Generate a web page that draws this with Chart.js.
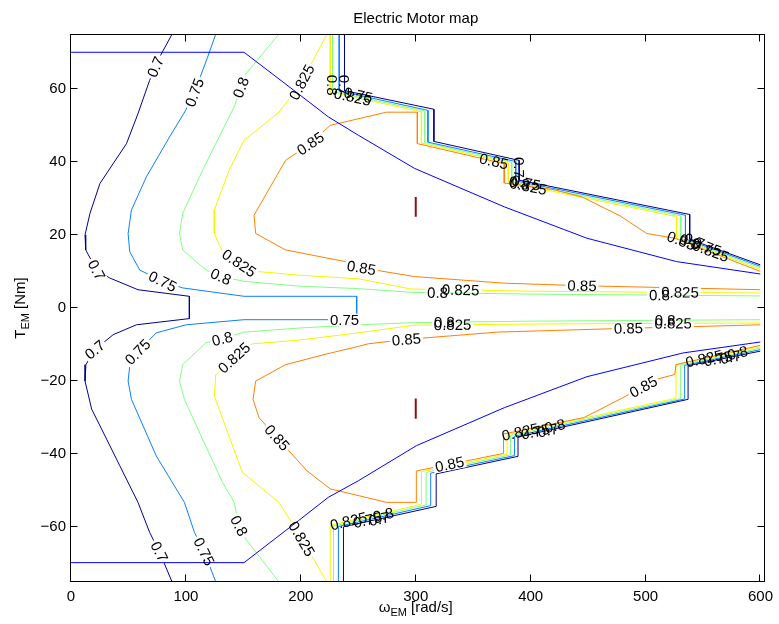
<!DOCTYPE html>
<html>
<head>
<meta charset="utf-8">
<title>Electric Motor map</title>
<script src="https://cdn.jsdelivr.net/npm/chart.js@4.4.1/dist/chart.umd.min.js"></script>
<style>
  html, body { margin: 0; padding: 0; background: #fff; }
</style>
</head>
<body>
<canvas id="motorMap" width="779" height="624"></canvas>
<script>
// axis ticks
const xTicks = [0, 100, 200, 300, 400, 500, 600];
const yTicks = [-60, -40, -20, 0, 20, 40, 60];

// efficiency contours, [speed rad/s, torque Nm]
const c70Left = [[88,75],[77,68.6],[68.4,62.3],[58.3,53.2],[48.3,45],[25.2,34.1],[16.5,25.9],[12.2,20],[12.8,15.9],[22.3,10.4],[33.8,8.2],[58.3,5],[103,3.2],[103,-2.9],[56.9,-4.6],[36.7,-7.3],[20.8,-11.4],[13,-15.5],[12.2,-20],[18,-27.7],[31,-35.9],[42.5,-43.2],[58.3,-53.2],[68.4,-61.4],[77,-66.8],[88,-75]];
const c75Left = [[126,75],[118.8,68.6],[107.4,59],[99.6,54],[85.7,46.8],[65.6,35.9],[52.6,26.8],[49.7,20.4],[51.1,15.4],[59.8,10.4],[79.7,7.3],[97.2,5.5],[150.6,3.2],[248.6,3.2],[248.6,-3.2],[150.6,-3.2],[100.2,-4.6],[74.2,-6.8],[58,-12],[51.1,-15.9],[49.7,-20],[52.6,-25],[74.2,-40.5],[98.7,-53.2],[107.4,-61.4],[116,-66.8],[126,-75]];
const c80Upper = [[181,75],[152,64],[147.8,60.4],[142,55],[137.6,52.3],[114.5,37.7],[97.2,25.9],[94.4,20.4],[97.2,15.9],[117.5,10.4],[130.4,8.6],[150.6,7.3],[198,6.0],[250,5.3],[296,4.3],[400,3.8],[600,3.3]];
const c80Lower = [[181,-75],[152,-63.2],[146.3,-59.6],[142,-53.2],[131.8,-47.7],[114.5,-35.9],[98.7,-25],[94.4,-20],[97.2,-15.5],[117.5,-9.5],[131.6,-8.4],[150.6,-6.6],[198,-5.5],[250,-4.6],[299,-4.0],[400,-3.6],[600,-3.2]];
const c825Upper = [[222.7,75],[200.8,61.8],[181,53.6],[150.6,45.9],[137.6,37.7],[124.7,26.8],[124.7,20.4],[131.8,15.4],[146.3,12.3],[162.1,10],[198,9.0],[250,8.0],[296,5.2],[400,4.6],[600,4.1]];
const c825Lower = [[222.7,-75],[200.7,-63.2],[181,-53.2],[149.1,-45],[124.7,-24.1],[126,-18.2],[142,-13.6],[157.8,-9.8],[198,-8.8],[250,-6.8],[299,-4.7],[400,-4.4],[600,-4.1]];
const c85Upper = [[600,5.0],[444.7,6.1],[377,6.8],[299,8.6],[252.8,11],[238.6,12.7],[186.7,15.9],[160.7,20.4],[159.3,25.4],[186.7,40.4],[208.3,45],[225.6,50],[274.6,53.6],[301.4,53.6],[301.4,45.0],[377,39.5],[377,34.2],[420,32.4],[444.7,30.4],[477.9,25.2],[501,20.4],[525.4,19.1],[600,10.0]];
const c85Lower = [[600,-4.6],[469,-5.7],[371,-6.6],[291.8,-8.6],[258.6,-9.8],[250,-10.5],[221,-12.7],[186.7,-15.5],[160.7,-20],[158.4,-25],[163.6,-30],[205.4,-44.6],[225.6,-49.5],[274.6,-53.2],[300.5,-53.2],[300.5,-44.6],[376.4,-39.8],[376.4,-34.5],[446.2,-30],[457.7,-28.2],[479.3,-24.7],[511,-19.4],[525.4,-18.2],[526.5,-15.5],[600,-10.2]];

// contours squeezed along the torque limit steps
const c70Top = [[238,75],[238,59.5],[315.8,54.4],[315.8,45.6],[390,40.4],[390,35.0],[538.4,25.6],[538.4,18.8],[600,11.8]];
const c75Top = [[233.4,75],[233.4,59.4],[310.6,54.1],[310.6,45.4],[387,40.1],[387,34.8],[534.7,25.4],[534.7,18.9],[600,11.4]];
const c80Top = [[227.6,75],[227.6,59.3],[307.8,53.9],[307.8,45.3],[383.5,39.9],[383.5,34.6],[530.6,25.2],[530.6,19.0],[600,11.0]];
const c825Top = [[225.6,75],[225.6,59.1],[304.9,53.7],[304.9,45.1],[380.5,39.7],[380.5,34.4],[526.9,25.0],[526.9,19.1],[600,10.5]];
const c70Bot = [[237.1,-75],[237.1,-59.9],[317.8,-54.3],[317.8,-45.4],[389,-40.6],[389,-35.3],[537,-25.0],[537,-15.8],[600,-11.8]];
const c75Bot = [[232.7,-75],[232.7,-59.8],[313,-54.1],[313,-45.2],[386,-40.4],[386,-35.1],[534,-24.9],[534,-15.7],[600,-11.4]];
const c80Bot = [[228.4,-75],[228.4,-59.7],[309,-53.9],[309,-45.0],[382.5,-40.2],[382.5,-34.9],[530.5,-24.8],[530.5,-15.6],[600,-11.0]];
const c825Bot = [[225.6,-75],[225.6,-59.5],[305,-53.7],[305,-44.8],[379.5,-40.0],[379.5,-34.7],[526.5,-24.7],[526.5,-15.5],[600,-10.6]];

// peak efficiency islands
const c875Upper = [[300,30.4],[300,25.0]];
const c875Lower = [[300,-24.8],[300,-30.3]];

// max torque envelope
const limitUpper = [[0,70],[150.6,70],[198,58.6],[224,52.3],[250,47.3],[299,38.2],[377,27.7],[449,19.1],[527,12.7],[600,9.3]];
const limitLower = [[0,-69.7],[150.6,-69.7],[198,-58.2],[224,-51.8],[250,-47.3],[300.5,-37.7],[377,-27.3],[449,-18.8],[532.7,-12.3],[600,-9.3]];

// inline contour labels: text, speed, torque, contour
const lineLabels = [
  ['0.7', 73.5, 66, c70Left], ['0.7', 22.3, 10.4, c70Left], ['0.7', 20.8, -11.4, c70Left], ['0.7', 76.2, -66.8, c70Left],
  ['0.75', 107.4, 59, c75Left], ['0.75', 79.7, 7.3, c75Left], ['0.75', 58, -12, c75Left], ['0.75', 114.8, -66.8, c75Left], ['0.75', 238, -3.2, c75Left],
  ['0.8', 147.8, 60.4, c80Upper], ['0.8', 130.4, 8.6, c80Upper], ['0.8', 319, 4.2, c80Upper], ['0.8', 512, 3.5, c80Upper],
  ['0.8', 131.6, -8.4, c80Lower], ['0.8', 146.3, -59.6, c80Lower], ['0.8', 325, -3.9, c80Lower], ['0.8', 517, -3.4, c80Lower],
  ['0.825', 200.8, 61.8, c825Upper], ['0.825', 146.3, 12.3, c825Upper], ['0.825', 339, 4.9, c825Upper], ['0.825', 530, 4.3, c825Upper],
  ['0.825', 142, -13.6, c825Lower], ['0.825', 200.7, -63.2, c825Lower], ['0.825', 332, -4.6, c825Lower], ['0.825', 524, -4.2, c825Lower],
  ['0.85', 208.3, 45, c85Upper], ['0.85', 252.8, 11, c85Upper], ['0.85', 444.7, 6.1, c85Upper],
  ['0.85', 179.4, -35.5, c85Lower], ['0.85', 291.8, -8.6, c85Lower], ['0.85', 485, -5.5, c85Lower],
  ['0.85', 329.4, -42.8, c85Lower], ['0.85', 498, -21.5, c85Lower]
];

// labels piled up where the contours bunch together
const clusterLabels = [
  ['0.7', 238, 61, c70Top], ['0.8', 228, 61, c80Top], ['0.825', 245, 57.8, c825Top], ['0.75', 250, 58.2, c75Top],
  ['0.85', 368, 40.2, c85Upper], ['0.7', 390, 38.5, c70Top], ['0.8', 390, 34.2, c80Top], ['0.75', 396, 34.2, c75Top], ['0.825', 398, 33.5, c825Top],
  ['0.85', 530, 17.5, c85Upper], ['0.8', 537, 17, c80Top], ['0.7', 542, 18, c70Top], ['0.75', 553, 16.3, c75Top], ['0.825', 556, 15, c825Top],
  ['0.825', 242, -59, c825Bot], ['0.75', 258, -58, c75Bot], ['0.7', 268, -57.5, c70Bot], ['0.8', 272, -57, c80Bot],
  ['0.825', 391, -33.9, c825Bot], ['0.75', 404, -33.8, c75Bot], ['0.7', 415, -33.5, c70Bot], ['0.8', 421, -32.3, c80Bot],
  ['0.825', 551, -13.9, c825Bot], ['0.75', 563, -13.8, c75Bot], ['0.7', 574, -13.5, c70Bot], ['0.8', 580, -12.3, c80Bot]
];

const ctx = document.getElementById('motorMap');
const FONT = '"Liberation Sans", Arial, Helvetica, sans-serif';

function line(points, color, width) {
  return {
    src: points,
    data: points.map(([x, y]) => ({ x: x, y: y })),
    borderColor: color,
    borderWidth: width || 1,
    showLine: true,
    pointRadius: 0,
    fill: false,
    tension: 0,
  };
}

// find where a label sits on its contour, and the slope there (pixels)
function onContour(chart, lab) {
  const xs = chart.scales.x, ys = chart.scales.y;
  const pts = lab[3];
  const px = xs.getPixelForValue(lab[1]), py = ys.getPixelForValue(lab[2]);
  let best = null;
  for (let i = 0; i < pts.length - 1; i++) {
    const ax = xs.getPixelForValue(pts[i][0]), ay = ys.getPixelForValue(pts[i][1]);
    const bx = xs.getPixelForValue(pts[i + 1][0]), by = ys.getPixelForValue(pts[i + 1][1]);
    const dx = bx - ax, dy = by - ay;
    const len2 = dx * dx + dy * dy || 1;
    let t = ((px - ax) * dx + (py - ay) * dy) / len2;
    t = Math.max(0, Math.min(1, t));
    const qx = ax + t * dx, qy = ay + t * dy;
    const d = (qx - px) * (qx - px) + (qy - py) * (qy - py);
    if (!best || d < best.d) best = { d: d, x: qx, y: qy, ang: Math.atan2(dy, dx) };
  }
  if (best.ang > Math.PI / 2) best.ang -= Math.PI;
  if (best.ang <= -Math.PI / 2) best.ang += Math.PI;
  return best;
}

// draw text with a subscript part, centred on 0
function drawSubText(c, parts, y) {
  let total = 0;
  parts.forEach((p) => {
    c.font = p[1] + 'px ' + FONT;
    total += c.measureText(p[0]).width;
  });
  let x = -total / 2;
  c.textAlign = 'left';
  c.textBaseline = 'alphabetic';
  parts.forEach((p) => {
    c.font = p[1] + 'px ' + FONT;
    c.fillText(p[0], x, y + p[2]);
    x += c.measureText(p[0]).width;
  });
}

const contourLabels = {
  id: 'contourLabels',
  // break each contour under its own labels
  afterDatasetDraw(chart, args) {
    const src = chart.data.datasets[args.index].src;
    const c = chart.ctx;
    const a = chart.chartArea;
    c.save();
    c.beginPath();
    c.rect(a.left, a.top, a.right - a.left, a.bottom - a.top);
    c.clip();
    c.font = '15px ' + FONT;
    c.fillStyle = '#fff';
    lineLabels.filter((l) => l[3] === src).forEach((l) => {
      const p = onContour(chart, l);
      const w = c.measureText(l[0]).width;
      c.save();
      c.translate(p.x, p.y);
      c.rotate(p.ang);
      c.fillRect(-w / 2 - 2, -6, w + 4, 12);
      c.restore();
    });
    c.restore();
  },
  afterDatasetsDraw(chart) {
    const c = chart.ctx;
    c.save();
    c.font = '15px ' + FONT;
    c.fillStyle = '#000';
    c.textAlign = 'center';
    c.textBaseline = 'middle';
    lineLabels.concat(clusterLabels).forEach((l) => {
      const p = onContour(chart, l);
      c.save();
      c.translate(p.x, p.y);
      c.rotate(p.ang);
      c.fillText(l[0], 0, 1);
      c.restore();
    });
    c.restore();
  },
  // matlab style box, inward ticks and titles
  afterDraw(chart) {
    const c = chart.ctx;
    const a = chart.chartArea;
    const xs = chart.scales.x, ys = chart.scales.y;
    const L = 70.5, R = 764.5, T = 34.5, B = 581.5;
    c.save();
    c.strokeStyle = '#000';
    c.lineWidth = 1;
    c.strokeRect(L, T, R - L, B - T);
    c.beginPath();
    xTicks.forEach((v) => {
      const x = Math.round(xs.getPixelForValue(v)) - 0.5;
      c.moveTo(x, B); c.lineTo(x, B - 7);
      c.moveTo(x, T); c.lineTo(x, T + 7);
    });
    yTicks.forEach((v) => {
      const y = Math.round(ys.getPixelForValue(v)) - 0.5;
      c.moveTo(L, y); c.lineTo(L + 7, y);
      c.moveTo(R, y); c.lineTo(R - 7, y);
    });
    c.stroke();

    c.fillStyle = '#000';
    c.font = '15px ' + FONT;
    c.textAlign = 'center';
    c.textBaseline = 'alphabetic';
    c.fillText('Electric Motor map', (a.left + a.right) / 2, 23);

    c.save();
    c.translate((a.left + a.right) / 2, 612);
    drawSubText(c, [['\u03c9', 15, 0], ['EM', 11, 4], [' [rad/s]', 15, 0]], 0);
    c.restore();

    c.save();
    c.translate(25, (a.top + a.bottom) / 2);
    c.rotate(-Math.PI / 2);
    drawSubText(c, [['T', 15, 0], ['EM', 11, 4], [' [Nm]', 15, 0]], 0);
    c.restore();
    c.restore();
  },
};

const tickFont = { family: FONT, size: 15 };

new Chart(ctx, {
  type: 'scatter',
  data: {
    datasets: [
      line(limitUpper, '#0000ff'),
      line(limitLower, '#0000ff'),
      line(c875Upper, '#8b1010', 2),
      line(c875Lower, '#8b1010', 2),
      line(c70Left, '#00008f'),
      line(c75Left, '#0a80ff'),
      line(c80Upper, '#80ff80'),
      line(c80Lower, '#80ff80'),
      line(c825Upper, '#f5f500'),
      line(c825Lower, '#f5f500'),
      line(c85Upper, '#ff8000'),
      line(c85Lower, '#ff8000'),
      line(c70Top, '#00008f'),
      line(c75Top, '#0a80ff'),
      line(c80Top, '#80ff80'),
      line(c825Top, '#f5f500'),
      line(c70Bot, '#00008f'),
      line(c75Bot, '#0a80ff'),
      line(c80Bot, '#80ff80'),
      line(c825Bot, '#f5f500'),
    ],
  },
  options: {
    responsive: false,
    animation: false,
    events: [],
    layout: {
      padding: { left: 0, right: 15, top: 34, bottom: 0 },
    },
    plugins: {
      legend: { display: false },
      tooltip: { enabled: false },
    },
    scales: {
      x: {
        type: 'linear',
        min: 0,
        max: 600,
        afterBuildTicks: (s) => { s.ticks = xTicks.map((v) => ({ value: v })); },
        afterFit: (s) => { s.height = 42; },
        grid: { display: false, drawTicks: false },
        border: { display: false },
        ticks: { color: '#000', font: tickFont, padding: 6, maxRotation: 0, autoSkip: false },
      },
      y: {
        type: 'linear',
        min: -75,
        max: 75,
        afterBuildTicks: (s) => { s.ticks = yTicks.map((v) => ({ value: v })); },
        afterFit: (s) => { s.width = 71; },
        grid: { display: false, drawTicks: false },
        border: { display: false },
        ticks: {
          color: '#000',
          font: tickFont,
          padding: 5,
          autoSkip: false,
          callback: (v) => String(v).replace('-', '\u2212'),
        },
      },
    },
  },
  plugins: [contourLabels],
});
</script>
</body>
</html>
